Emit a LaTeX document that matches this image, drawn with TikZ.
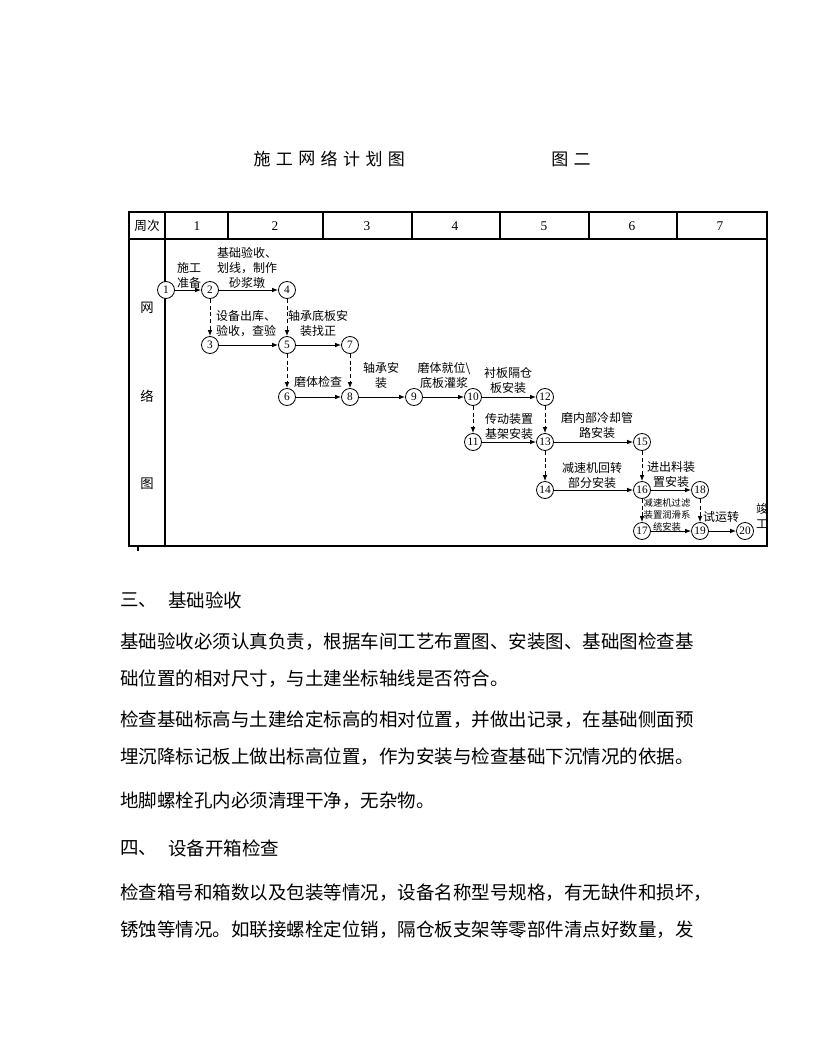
\documentclass[tikz,border=0pt]{standalone}
\usepackage{fontspec}
\setmainfont{Liberation Serif}
\newfontfamily\cjk{Noto Sans CJK SC}
\usetikzlibrary{arrows.meta, positioning, calc}
\tikzset{
  evnode/.style={circle, draw, line width=0.6pt, minimum size=12.75pt, inner sep=0pt, fill=white, font=\fontsize{8.5}{8.5}\selectfont},
  actlabel/.style={inner sep=0pt, align=center, font=\cjk\fontsize{9}{11.25}\selectfont},
  tinylabel/.style={actlabel, font=\cjk\fontsize{7}{9.2}\selectfont},
  headcell/.style={inner sep=0pt, font=\fontsize{10}{10}\selectfont},
  bodyline/.style={inner sep=0pt, anchor=west, font=\cjk\fontsize{13.875}{16}\selectfont},
  realarrow/.style={-{Latex[length=4.5pt,width=3.4pt]}, line width=0.6pt},
  dummyarrow/.style={realarrow, dash pattern=on 3pt off 2pt},
}
\begin{document}
\begin{tikzpicture}[x=0.75pt, y=-0.75pt]
  \useasboundingbox (0,0) rectangle (816,1056);
  % title
  \foreach \c [count=\i] in {施,工,网,络,计,划,图}
    \node[inner sep=0pt, font=\cjk\fontsize{12.75}{14}\selectfont] (t\i) at ({262+(\i-1)*22.4},159) {\c};
  \node[inner sep=0pt, font=\cjk\fontsize{12.75}{14}\selectfont] (fig) at (571,159) {图\hspace{4pt}二};
  % table
  \draw[line width=0.8pt] (129,212) rectangle (767,546);
  \draw[line width=0.8pt] (129,239) -- (767,239);
  \draw[line width=0.8pt] (165,212) -- (165,546);
  \foreach \x in {228,323,500,589,677} \draw[line width=0.8pt] (\x,212) -- (\x,239);
  \draw[line width=1.5pt] (412,212) -- (412,239);
  \draw[line width=1.5pt] (138,546) -- (165,546);
  \draw[line width=0.8pt] (138,546) -- (138,551);
  \node[headcell, font=\cjk\fontsize{9.5}{10}\selectfont] (h0) at (147,226) {周次};
  \foreach \n/\x in {1/197,2/275,3/367,4/455,5/544,6/632,7/720}
    \node[headcell] (h\n) at (\x,226) {\n};
  \node[actlabel, font=\cjk\fontsize{10}{10}\selectfont] (c1) at (147,308) {网};
  \node[actlabel, font=\cjk\fontsize{10}{10}\selectfont] (c2) at (147,396) {络};
  \node[actlabel, font=\cjk\fontsize{10}{10}\selectfont] (c3) at (147,484) {图};
  % events
  \foreach \n/\x/\y in {1/166/290, 2/210/290, 4/287/290, 3/210/345, 5/287/345, 7/350/345,
      6/287/397, 8/350/397, 9/414/397, 10/473/397, 12/545/397, 11/473/442, 13/545/442,
      15/642/442, 14/545/490, 16/642/490, 18/700/490, 17/642/531, 19/700/531, 20/745/531}
    \node[evnode] (e\n) at (\x,\y) {\n};
  % activities
  \foreach \i/\j in {1/2,2/4,3/5,5/7,6/8,8/9,9/10,10/12,11/13,13/15,14/16,16/18,17/19,19/20}
    \draw[realarrow] (e\i) -- (e\j);
  \foreach \i/\j in {2/3,4/5,5/6,7/8,10/11,12/13,13/14,15/16,16/17,18/19}
    \draw[dummyarrow] (e\i) -- (e\j);
  \node[actlabel] (a12) at (189,275.5) {施工\\准备};
  \node[actlabel] (a24) at (247,267.5) {基础验收、\\划线，制作\\砂浆墩};
  \node[actlabel] (a35) at (246,323.5) {设备出库、\\验收，查验};
  \node[actlabel] (a57) at (318,323.5) {轴承底板安\\装找正};
  \node[actlabel] (a68) at (318,382) {磨体检查};
  \node[actlabel] (a89) at (381,375) {轴承安\\装};
  \node[actlabel] (a910) at (444,375) {磨体就位\textbackslash\\底板灌浆};
  \node[actlabel] (a1012) at (508,380) {衬板隔仓\\板安装};
  \node[actlabel] (a1113) at (509,426.5) {传动装置\\基架安装};
  \node[actlabel] (a1315) at (597,425) {磨内部冷却管\\路安装};
  \node[actlabel] (a1416) at (592,475.5) {减速机回转\\部分安装};
  \node[actlabel] (a1618) at (671,474.5) {进出料装\\置安装};
  \node[tinylabel] (a1719) at (667,515) {减速机过滤\\装置润滑系\\统安装};
  \node[actlabel] (a1920) at (721,517) {试运转};
  \begin{scope}
    \clip (129,212) rectangle (767,546);
    \node[actlabel] (done) at (762,516) {竣\\工};
  \end{scope}
  % text below
  \node[bodyline] (s3) at (120,600) {三、};
  \node[bodyline] (s3t) at (168,600) {基础验收};
  \node[bodyline] (p1) at (120,642) {基础验收必须认真负责，根据车间工艺布置图、安装图、基础图检查基};
  \node[bodyline] (p2) at (120,679) {础位置的相对尺寸，与土建坐标轴线是否符合。};
  \node[bodyline] (p3) at (120,720) {检查基础标高与土建给定标高的相对位置，并做出记录，在基础侧面预};
  \node[bodyline] (p4) at (120,757) {埋沉降标记板上做出标高位置，作为安装与检查基础下沉情况的依据。};
  \node[bodyline] (p5) at (120,801) {地脚螺栓孔内必须清理干净，无杂物。};
  \node[bodyline] (s4) at (120,848) {四、};
  \node[bodyline] (s4t) at (168,848) {设备开箱检查};
  \node[bodyline] (p6) at (120,893) {检查箱号和箱数以及包装等情况，设备名称型号规格，有无缺件和损坏，};
  \node[bodyline] (p7) at (120,930) {锈蚀等情况。如联接螺栓定位销，隔仓板支架等零部件清点好数量，发};
\end{tikzpicture}
\end{document}
